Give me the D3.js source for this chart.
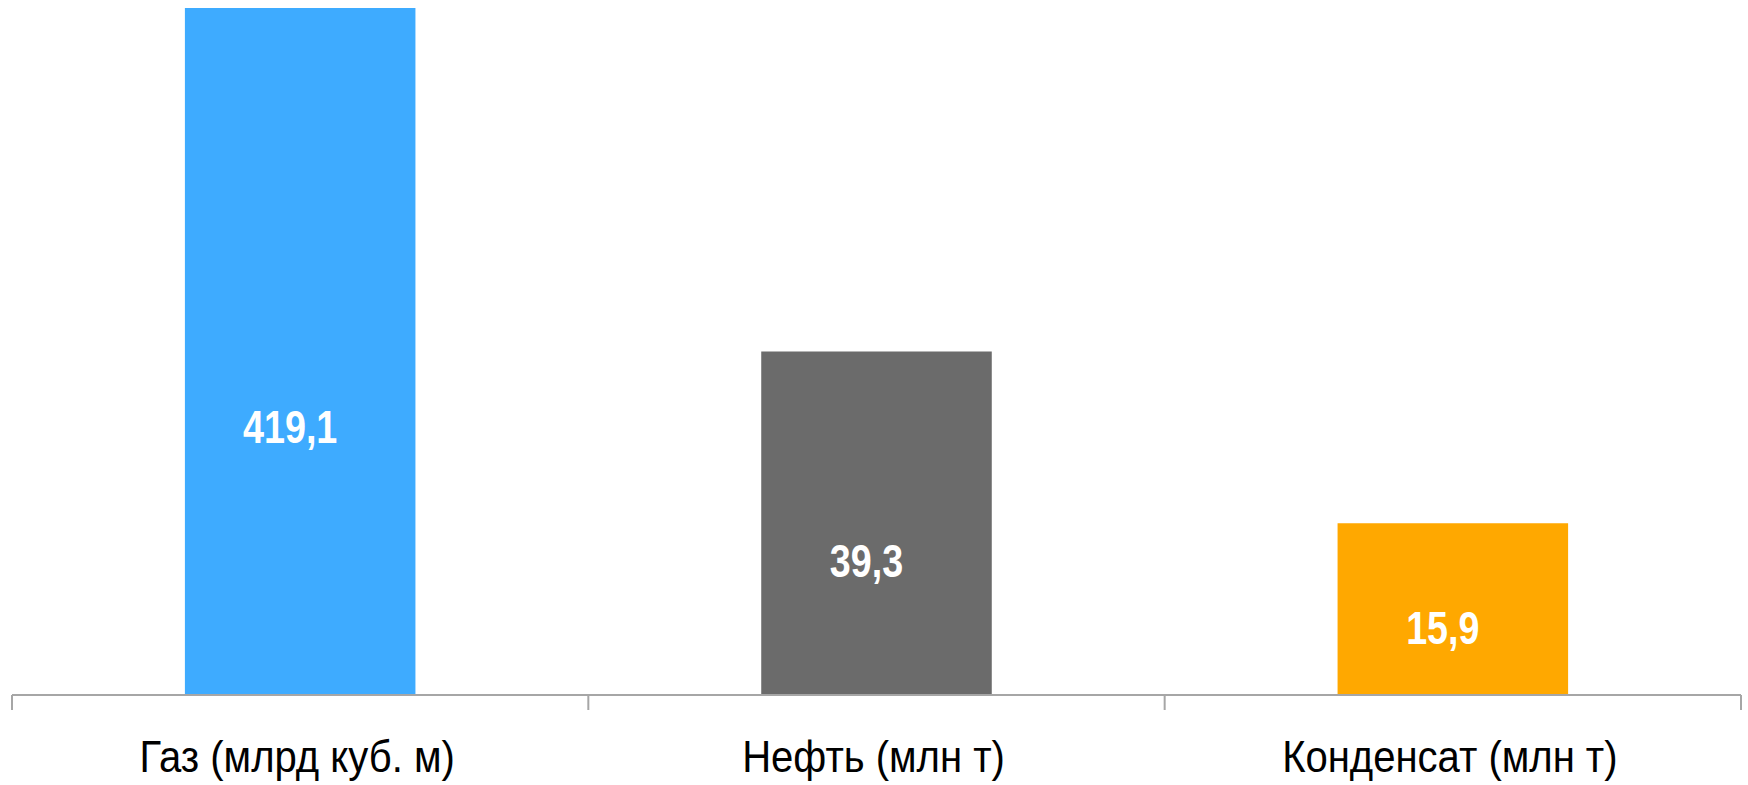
<!DOCTYPE html>
<html>
<head>
<meta charset="utf-8">
<script src="https://cdn.jsdelivr.net/npm/d3@7"></script>
<style>
  body { margin: 0; background: #fff; }
  text { font-family: "Liberation Sans Narrow", "Arial Narrow", "Liberation Sans", sans-serif; }
</style>
</head>
<body>
<script>
const w = 1748;
const h = 785;

// categories and values
const categories = ['Газ (млрд куб. м)', 'Нефть (млн т)', 'Конденсат (млн т)'];
const values = [419.1, 39.3, 15.9];
// bars are drawn in different units, so heights are relative (gas = 100)
const barIndex = [100, 50, 25];
const colors = ['#3eabff', '#6b6b6b', '#ffa800'];

const data = categories.map((c, i) => ({ cat: c, value: values[i], idx: barIndex[i], color: colors[i] }));

const axisY = 695;
const narrow = 0.82; // no narrow font installed, squeeze the text instead

let svg = d3.select('body')
            .append('svg')
            .attr('width', w)
            .attr('height', h);

const x = d3.scaleBand()
  .domain(categories)
  .range([12, 1741])
  .paddingInner(0.6)
  .paddingOuter(0.3);

const y = d3.scaleLinear()
  .domain([0, 100])
  .range([axisY, 8]);

svg.selectAll('rect')
  .data(data)
  .enter()
  .append('rect')
     .attr('x', d => x(d.cat))
     .attr('y', d => y(d.idx))
     .attr('width', x.bandwidth())
     .attr('height', d => axisY - y(d.idx))
     .attr('fill', d => d.color);

// axis line with ticks at band edges
const g = svg.append('g');
g.append('line')
  .attr('x1', 12).attr('x2', 1741)
  .attr('y1', axisY).attr('y2', axisY)
  .attr('stroke', '#a6a6a6').attr('stroke-width', 2);
g.selectAll('.tick')
  .data(d3.range(categories.length + 1))
  .enter()
  .append('line')
  .attr('x1', i => 12 + i * (1741 - 12) / categories.length)
  .attr('x2', i => 12 + i * (1741 - 12) / categories.length)
  .attr('y1', axisY).attr('y2', axisY + 15)
  .attr('stroke', '#a6a6a6').attr('stroke-width', 2);

// value labels (sit a little left of centre in the original)
svg.selectAll('.val')
  .data(data)
  .enter()
  .append('text')
  .attr('class', 'val')
  .text(d => d3.format('.1f')(d.value).replace('.', ','))
  .attr('transform', d => `translate(${x(d.cat) + x.bandwidth() / 2 - 10},${y(d.idx * 0.39)}) scale(${narrow},1)`)
  .attr('dy', '0.35em')
  .attr('text-anchor', 'middle')
  .attr('fill', '#fff')
  .attr('font-weight', 'bold')
  .attr('font-size', 46);

// category labels
svg.selectAll('.cat')
  .data(data)
  .enter()
  .append('text')
  .attr('class', 'cat')
  .text(d => d.cat)
  .attr('transform', d => `translate(${x(d.cat) + x.bandwidth() / 2 - 3},772) scale(0.89,1)`)
  .attr('text-anchor', 'middle')
  .attr('fill', '#000')
  .attr('font-size', 45);
</script>
</body>
</html>
